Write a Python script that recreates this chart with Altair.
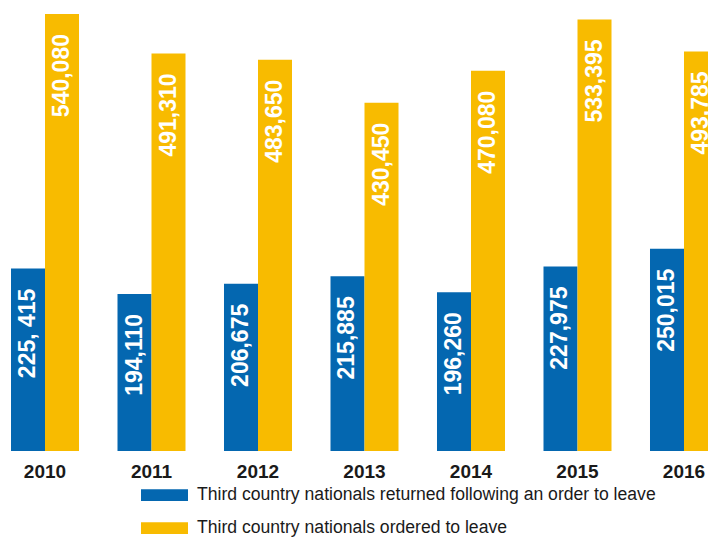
import altair as alt
import pandas as pd

years = ["2010", "2011", "2012", "2013", "2014", "2015", "2016"]
returned = [225415, 194110, 206675, 215885, 196260, 227975, 250015]
returned_labels = ["225, 415", "194,110", "206,675", "215,885", "196,260", "227,975", "250,015"]
ordered = [540080, 491310, 483650, 430450, 470080, 533395, 493785]
ordered_labels = ["540,080", "491,310", "483,650", "430,450", "470,080", "533,395", "493,785"]
series = [
    "Third country nationals returned following an order to leave",
    "Third country nationals ordered to leave",
]
colors = ["#0467B0", "#F8BB00"]

rows = []
for i, yr in enumerate(years):
    rows.append({"year": yr, "series": series[0], "value": returned[i], "label": returned_labels[i]})
    rows.append({"year": yr, "series": series[1], "value": ordered[i], "label": ordered_labels[i]})
df = pd.DataFrame(rows)

FONT = "Liberation Sans"

x = alt.X(
    "year:N",
    sort=years,
    scale=alt.Scale(paddingInner=0.3615, paddingOuter=0, align=0),
    axis=alt.Axis(
        title=None, labelAngle=0, domain=False, ticks=False, tickSize=0,
        labelPadding=26, labelFont=FONT, labelFontSize=19, labelFontWeight="bold",
        labelColor="#1a1a1a", labelBaseline="alphabetic", grid=False,
    ),
)
xo = alt.XOffset("series:N", sort=series, scale=alt.Scale(paddingInner=0, paddingOuter=0))
y = alt.Y("value:Q", scale=alt.Scale(domain=[0, 540080], nice=False, zero=True), axis=None)

color = alt.Color(
    "series:N",
    sort=series,
    scale=alt.Scale(domain=series, range=colors),
    legend=alt.Legend(
        title=None, orient="none", legendX=130, legendY=457.5,
        direction="vertical",
        symbolType="M-1,-0.25L1,-0.25L1,0.25L-1,0.25Z", symbolSize=2209,
        symbolStrokeWidth=0, symbolOpacity=1,
        labelFont=FONT, labelFontSize=17.6, labelColor="#1a1a1a",
        labelOffset=9, rowPadding=alt.ExprRef(expr="-10"), padding=0, labelLimit=700,
    ),
)

bars = alt.Chart(df).mark_bar().encode(x=x, xOffset=xo, y=y, color=color)
labels = alt.Chart(df).mark_text(
    angle=270, align="right", baseline="middle", dx=-20, color="white",
    font=FONT, fontWeight="bold", fontSize=23,
).encode(x=x, xOffset=xo, y=y, text="label:N")

chart = (
    alt.layer(bars, labels)
    .properties(
        width=707, height=437,
        autosize=alt.AutoSizeParams(type="none"),
        padding={"left": 3, "top": 6, "right": -10, "bottom": 86},
    )
    .configure_view(stroke=None)
)

chart.save("out.html", embed_options={"renderer": "svg", "actions": False})
